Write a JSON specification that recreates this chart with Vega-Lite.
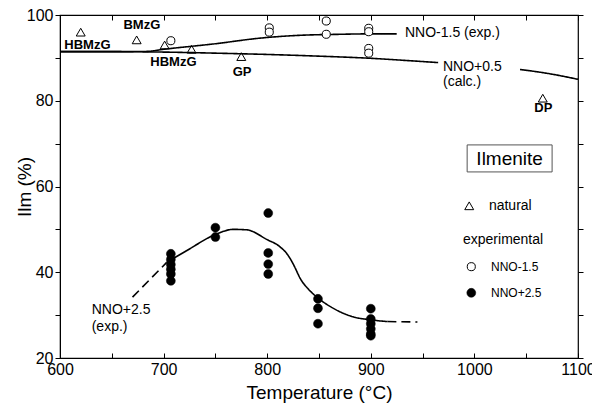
{
  "$schema": "https://vega.github.io/schema/vega-lite/v6.json",
  "width": 518,
  "height": 343,
  "autosize": "none",
  "padding": {"left": 60, "top": 15, "right": 14, "bottom": 49},
  "background": "white",
  "config": {
    "font": "Liberation Sans",
    "view": {"stroke": "black", "strokeWidth": 1.2},
    "axis": {
      "grid": false,
      "domainColor": "black",
      "tickColor": "black",
      "labelColor": "black",
      "titleColor": "black",
      "labelFont": "Liberation Sans",
      "titleFont": "Liberation Sans",
      "labelFontSize": 16,
      "titleFontSize": 19,
      "titleFontWeight": "normal",
      "tickSize": 5
    }
  },
  "resolve": {"axis": {"x": "independent", "y": "independent"}},
  "datasets": {
    "pts": [
      {"T": 620, "y": 96.0, "kind": "natural"},
      {"T": 674, "y": 94.2, "kind": "natural"},
      {"T": 701, "y": 93.0, "kind": "natural"},
      {"T": 727, "y": 92.0, "kind": "natural"},
      {"T": 775, "y": 90.3, "kind": "natural"},
      {"T": 1066, "y": 80.6, "kind": "natural"},
      {"T": 995, "y": 55.5, "kind": "natural"},
      {"T": 707, "y": 94.0, "kind": "NNO-1.5"},
      {"T": 802, "y": 97.0, "kind": "NNO-1.5"},
      {"T": 802, "y": 96.0, "kind": "NNO-1.5"},
      {"T": 857, "y": 98.6, "kind": "NNO-1.5"},
      {"T": 857, "y": 95.5, "kind": "NNO-1.5"},
      {"T": 898, "y": 96.9, "kind": "NNO-1.5"},
      {"T": 898, "y": 96.1, "kind": "NNO-1.5"},
      {"T": 898, "y": 92.2, "kind": "NNO-1.5"},
      {"T": 898, "y": 91.1, "kind": "NNO-1.5"},
      {"T": 997, "y": 41.3, "kind": "NNO-1.5"},
      {"T": 707, "y": 44.3, "kind": "NNO+2.5"},
      {"T": 707, "y": 43.0, "kind": "NNO+2.5"},
      {"T": 707, "y": 41.8, "kind": "NNO+2.5"},
      {"T": 707, "y": 40.7, "kind": "NNO+2.5"},
      {"T": 707, "y": 39.6, "kind": "NNO+2.5"},
      {"T": 707, "y": 38.0, "kind": "NNO+2.5"},
      {"T": 750, "y": 50.4, "kind": "NNO+2.5"},
      {"T": 750, "y": 48.2, "kind": "NNO+2.5"},
      {"T": 801, "y": 53.8, "kind": "NNO+2.5"},
      {"T": 801, "y": 44.5, "kind": "NNO+2.5"},
      {"T": 801, "y": 41.9, "kind": "NNO+2.5"},
      {"T": 801, "y": 39.6, "kind": "NNO+2.5"},
      {"T": 849, "y": 33.8, "kind": "NNO+2.5"},
      {"T": 849, "y": 31.6, "kind": "NNO+2.5"},
      {"T": 849, "y": 28.0, "kind": "NNO+2.5"},
      {"T": 900, "y": 31.5, "kind": "NNO+2.5"},
      {"T": 900, "y": 29.1, "kind": "NNO+2.5"},
      {"T": 900, "y": 28.0, "kind": "NNO+2.5"},
      {"T": 900, "y": 26.8, "kind": "NNO+2.5"},
      {"T": 900, "y": 25.6, "kind": "NNO+2.5"},
      {"T": 900, "y": 25.2, "kind": "NNO+2.5"},
      {"T": 997, "y": 35.2, "kind": "NNO+2.5"}
    ],
    "curves": [
      {"T": 600, "y": 91.45, "seg": "m15", "style": "solid"},
      {"T": 650, "y": 91.45, "seg": "m15", "style": "solid"},
      {"T": 683, "y": 91.5, "seg": "m15", "style": "solid"},
      {"T": 700, "y": 92.0, "seg": "m15", "style": "solid"},
      {"T": 750, "y": 93.3, "seg": "m15", "style": "solid"},
      {"T": 793, "y": 94.6, "seg": "m15", "style": "solid"},
      {"T": 826, "y": 95.2, "seg": "m15", "style": "solid"},
      {"T": 870, "y": 95.5, "seg": "m15", "style": "solid"},
      {"T": 900, "y": 95.6, "seg": "m15", "style": "solid"},
      {"T": 925, "y": 95.6, "seg": "m15", "style": "solid"},
      {"T": 600, "y": 91.45, "seg": "p05a", "style": "solid"},
      {"T": 650, "y": 91.45, "seg": "p05a", "style": "solid"},
      {"T": 700, "y": 91.35, "seg": "p05a", "style": "solid"},
      {"T": 750, "y": 91.1, "seg": "p05a", "style": "solid"},
      {"T": 800, "y": 90.8, "seg": "p05a", "style": "solid"},
      {"T": 850, "y": 90.4, "seg": "p05a", "style": "solid"},
      {"T": 900, "y": 89.9, "seg": "p05a", "style": "solid"},
      {"T": 940, "y": 89.3, "seg": "p05a", "style": "solid"},
      {"T": 965, "y": 88.9, "seg": "p05a", "style": "solid"},
      {"T": 1044, "y": 87.3, "seg": "p05b", "style": "solid"},
      {"T": 1075, "y": 86.2, "seg": "p05b", "style": "solid"},
      {"T": 1100, "y": 85.0, "seg": "p05b", "style": "solid"},
      {"T": 670, "y": 34.2, "seg": "p25a", "style": "dash"},
      {"T": 703, "y": 42.3, "seg": "p25a", "style": "dash"},
      {"T": 703, "y": 42.3, "seg": "p25b", "style": "solid"},
      {"T": 722, "y": 45.0, "seg": "p25b", "style": "solid"},
      {"T": 750, "y": 48.8, "seg": "p25b", "style": "solid"},
      {"T": 767, "y": 50.0, "seg": "p25b", "style": "solid"},
      {"T": 780, "y": 49.9, "seg": "p25b", "style": "solid"},
      {"T": 800, "y": 47.6, "seg": "p25b", "style": "solid"},
      {"T": 812, "y": 46.0, "seg": "p25b", "style": "solid"},
      {"T": 820, "y": 44.0, "seg": "p25b", "style": "solid"},
      {"T": 826, "y": 41.5, "seg": "p25b", "style": "solid"},
      {"T": 832, "y": 38.5, "seg": "p25b", "style": "solid"},
      {"T": 840, "y": 36.0, "seg": "p25b", "style": "solid"},
      {"T": 849, "y": 34.0, "seg": "p25b", "style": "solid"},
      {"T": 863, "y": 31.7, "seg": "p25b", "style": "solid"},
      {"T": 883, "y": 29.6, "seg": "p25b", "style": "solid"},
      {"T": 900, "y": 28.9, "seg": "p25b", "style": "solid"},
      {"T": 916, "y": 28.5, "seg": "p25b", "style": "solid"},
      {"T": 916, "y": 28.5, "seg": "p25c", "style": "dash"},
      {"T": 945, "y": 28.4, "seg": "p25c", "style": "dash"}
    ],
    "boldLabels": [
      {"T": 626.5, "y": 92.9, "text": "HBMzG"},
      {"T": 679, "y": 97.7, "text": "BMzG"},
      {"T": 709.5, "y": 89.1, "text": "HBMzG"},
      {"T": 775.7, "y": 86.8, "text": "GP"},
      {"T": 1066.5, "y": 78.2, "text": "DP"}
    ],
    "curveLabels": [
      {"T": 933, "y": 95.7, "text": "NNO-1.5 (exp.)"},
      {"T": 969.7, "y": 87.9, "text": "NNO+0.5"},
      {"T": 969.7, "y": 84.4, "text": "(calc.)"},
      {"T": 630.6, "y": 31.2, "text": "NNO+2.5"},
      {"T": 630.6, "y": 27.3, "text": "(exp.)"}
    ],
    "legendLabels": [
      {"T": 1014, "y": 55.5, "text": "natural", "size": "big"},
      {"T": 989, "y": 47.6, "text": "experimental", "size": "big"},
      {"T": 1016, "y": 41.3, "text": "NNO-1.5", "size": "small"},
      {"T": 1016, "y": 35.2, "text": "NNO+2.5", "size": "small"}
    ],
    "box": [
      {"T1": 993, "T2": 1075, "y1": 69.7, "y2": 63.4, "text": "Ilmenite", "Tc": 1034, "yc": 66.4}
    ]
  },
  "layer": [
    {
      "data": {"name": "curves"},
      "mark": {"type": "line", "color": "black", "strokeWidth": 1.6, "interpolate": "monotone"},
      "encoding": {
        "x": {"field": "T", "type": "quantitative", "scale": {"domain": [600, 1100], "nice": false, "zero": false},
          "axis": {"title": "Temperature (°C)", "values": [600, 650, 700, 750, 800, 850, 900, 950, 1000, 1050, 1100], "format": "d",
            "labelExpr": "datum.value % 100 == 0 ? datum.label : ''", "tickSize": -5, "labelPadding": 8, "titlePadding": 6, "labelFlush": false, "labelOverlap": false}},
        "y": {"field": "y", "type": "quantitative", "scale": {"domain": [20, 100], "nice": false, "zero": false},
          "axis": {"title": "Ilm (%)", "values": [20, 30, 40, 50, 60, 70, 80, 90, 100], "format": "d",
            "labelExpr": "datum.value % 20 == 0 ? datum.label : ''", "labelPadding": 2, "titlePadding": -8, "labelFlush": false, "labelOverlap": false}},
        "detail": {"field": "seg"},
        "strokeDash": {"field": "style", "type": "nominal", "scale": {"domain": ["solid", "dash"], "range": [[1, 0], [9, 5]]}, "legend": null}
      }
    },
    {
      "data": {"name": "pts"},
      "transform": [{"filter": "datum.kind == 'natural'"}],
      "mark": {"type": "point", "shape": "triangle-up", "filled": false, "stroke": "black", "strokeWidth": 1, "size": 80, "opacity": 1},
      "encoding": {
        "x": {"field": "T", "type": "quantitative", "axis": {"orient": "top", "title": null, "labels": false, "values": [600, 650, 700, 750, 800, 850, 900, 950, 1000, 1050, 1100], "tickSize": -5, "domain": false}},
        "y": {"field": "y", "type": "quantitative", "axis": {"orient": "right", "title": null, "labels": false, "values": [20, 30, 40, 50, 60, 70, 80, 90, 100], "tickSize": 5, "domain": false}}
      }
    },
    {
      "data": {"name": "pts"},
      "transform": [{"filter": "datum.kind == 'NNO-1.5'"}],
      "mark": {"type": "point", "shape": "circle", "filled": true, "fill": "white", "stroke": "black", "strokeWidth": 1, "size": 65, "opacity": 1},
      "encoding": {"x": {"field": "T", "type": "quantitative", "axis": null}, "y": {"field": "y", "type": "quantitative", "axis": null}}
    },
    {
      "data": {"name": "pts"},
      "transform": [{"filter": "datum.kind == 'NNO+2.5'"}],
      "mark": {"type": "point", "shape": "circle", "filled": true, "fill": "black", "stroke": "black", "strokeWidth": 0.5, "size": 80, "opacity": 1},
      "encoding": {"x": {"field": "T", "type": "quantitative", "axis": null}, "y": {"field": "y", "type": "quantitative", "axis": null}}
    },
    {
      "data": {"name": "boldLabels"},
      "mark": {"type": "text", "font": "Liberation Sans", "fontWeight": "bold", "fontSize": 13, "color": "black", "align": "center", "baseline": "middle"},
      "encoding": {"x": {"field": "T", "type": "quantitative", "axis": null}, "y": {"field": "y", "type": "quantitative", "axis": null}, "text": {"field": "text"}}
    },
    {
      "data": {"name": "curveLabels"},
      "mark": {"type": "text", "font": "Liberation Sans", "fontSize": 14, "color": "black", "align": "left", "baseline": "middle"},
      "encoding": {"x": {"field": "T", "type": "quantitative", "axis": null}, "y": {"field": "y", "type": "quantitative", "axis": null}, "text": {"field": "text"}}
    },
    {
      "data": {"name": "legendLabels"},
      "transform": [{"filter": "datum.size == 'big'"}],
      "mark": {"type": "text", "font": "Liberation Sans", "fontSize": 14, "color": "black", "align": "left", "baseline": "middle"},
      "encoding": {"x": {"field": "T", "type": "quantitative", "axis": null}, "y": {"field": "y", "type": "quantitative", "axis": null}, "text": {"field": "text"}}
    },
    {
      "data": {"name": "legendLabels"},
      "transform": [{"filter": "datum.size == 'small'"}],
      "mark": {"type": "text", "font": "Liberation Sans", "fontSize": 12, "color": "black", "align": "left", "baseline": "middle"},
      "encoding": {"x": {"field": "T", "type": "quantitative", "axis": null}, "y": {"field": "y", "type": "quantitative", "axis": null}, "text": {"field": "text"}}
    },
    {
      "data": {"name": "box"},
      "mark": {"type": "rect", "fill": "white", "fillOpacity": 0, "stroke": "#555", "strokeWidth": 1},
      "encoding": {"x": {"field": "T1", "type": "quantitative", "axis": null}, "x2": {"field": "T2"}, "y": {"field": "y1", "type": "quantitative", "axis": null}, "y2": {"field": "y2"}}
    },
    {
      "data": {"name": "box"},
      "mark": {"type": "text", "font": "Liberation Sans", "fontSize": 19, "color": "black", "align": "center", "baseline": "middle"},
      "encoding": {"x": {"field": "Tc", "type": "quantitative", "axis": null}, "y": {"field": "yc", "type": "quantitative", "axis": null}, "text": {"field": "text"}}
    }
  ]
}
